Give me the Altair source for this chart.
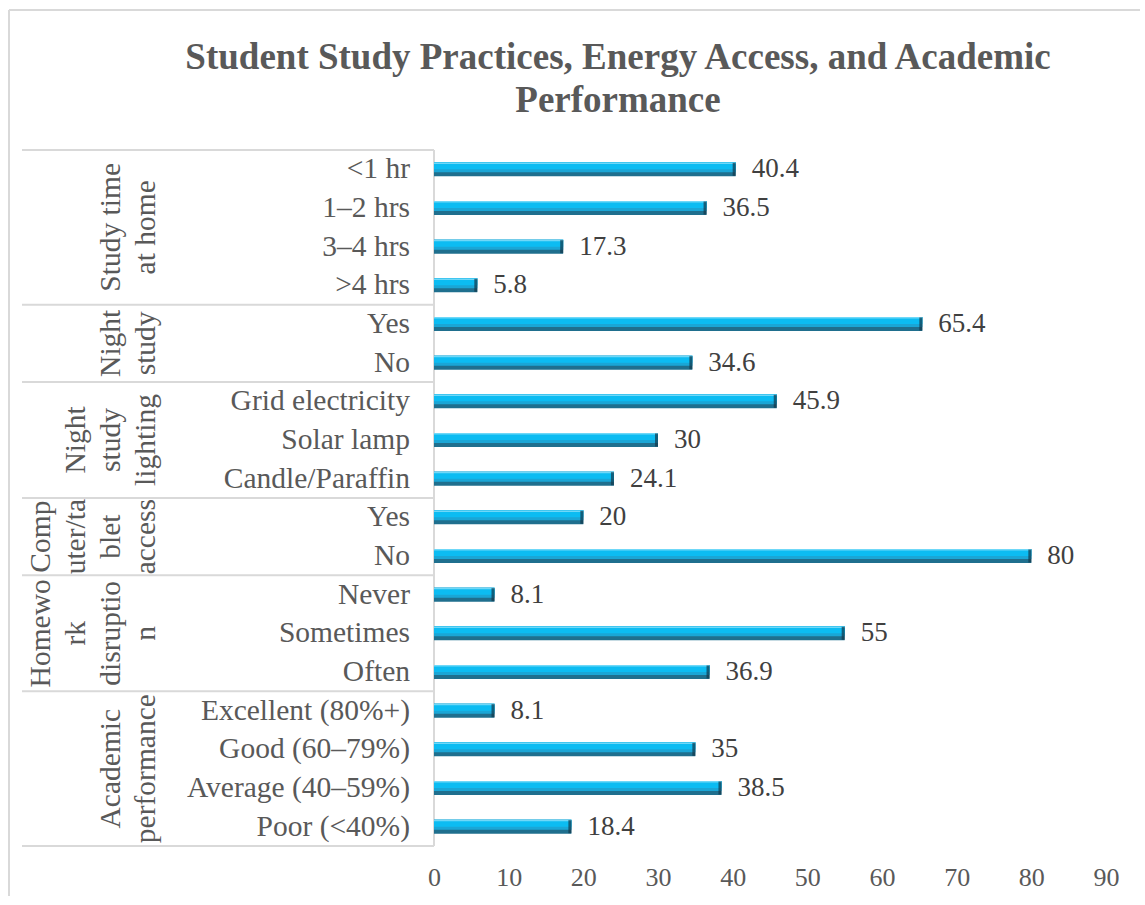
import altair as alt
import pandas as pd

title_lines = ["Student Study Practices, Energy Access, and Academic", "Performance"]

groups = [
    "Study time\nat home",
    "Night\nstudy",
    "Night\nstudy\nlighting",
    "Comp\nuter/ta\nblet\naccess",
    "Homewo\nrk\ndisruptio\nn",
    "Academic\nperformance",
]
group_sizes = [4, 2, 3, 2, 3, 4]

categories = [
    "<1 hr", "1–2 hrs", "3–4 hrs", ">4 hrs",
    "Yes", "No",
    "Grid electricity", "Solar lamp", "Candle/Paraffin",
    "Yes", "No",
    "Never", "Sometimes", "Often",
    "Excellent (80%+)", "Good (60–79%)", "Average (40–59%)", "Poor (<40%)",
]
values = [40.4, 36.5, 17.3, 5.8, 65.4, 34.6, 45.9, 30, 24.1, 20, 80, 8.1, 55, 36.9, 8.1, 35, 38.5, 18.4]
x_ticks = [0, 10, 20, 30, 40, 50, 60, 70, 80, 90]
x_max = 90

# ---- derived tables ----
n = len(categories)
df = pd.DataFrame({"row": list(range(n)), "category": categories, "value": values})
df["yc"] = df["row"] + 0.5
df["label"] = [("%g" % v) for v in values]

starts = []
s = 0
for g in group_sizes:
    starts.append(s)
    s += g

# one record per wrapped line of each group label; k = position counted from the last line
grows = []
for g, st, sz in zip(groups, starts, group_sizes):
    lines = g.split("\n")
    for i, ln in enumerate(lines):
        grows.append({"text": ln, "k": len(lines) - 1 - i, "center": st + sz / 2})
gdf = pd.DataFrame(grows)
max_lines = int(gdf["k"].max()) + 1
sep_df = pd.DataFrame({"pos": starts + [n]})

FONT = "Liberation Serif"
GRAY_TXT = "#595959"
LINE = "#d9d9d9"
LEFT_W = 412      # width of the category-label area
RIGHT_W = 672     # width of the bar area
W = LEFT_W + RIGHT_W
H = 696
LINE_H = 35
x_min = -x_max * LEFT_W / RIGHT_W

xs = alt.Scale(domain=[x_min, x_max], nice=False, zero=False, padding=0)
ys = alt.Scale(domain=[0, n], reverse=True, nice=False, zero=False, padding=0)

X = alt.X(
    "value:Q", scale=xs,
    axis=alt.Axis(
        values=x_ticks, title=None, grid=False, domain=False, ticks=False,
        labelFont=FONT, labelFontSize=26, labelColor=GRAY_TXT, labelPadding=18,
        labelFlush=False,
    ),
)
Y = alt.Y("yc:Q", scale=ys, axis=None)

base = alt.Chart(df)

# frame / separators
sep = alt.Chart(sep_df).mark_rule(color=LINE, strokeWidth=2).encode(
    y=alt.Y("pos:Q", scale=ys, axis=None),
    x=alt.datum(x_min), x2=alt.datum(0),
)
vline = alt.Chart(sep_df).mark_rule(color=LINE, strokeWidth=2).encode(
    x=alt.datum(0), y=alt.value(0), y2=alt.value(H),
)
border_top = alt.Chart(sep_df).mark_rule(color=LINE, strokeWidth=2).encode(
    x=alt.value(-13), x2=alt.value(1118), y=alt.value(-140),
)
border_left = alt.Chart(sep_df).mark_rule(color=LINE, strokeWidth=2).encode(
    x=alt.value(-13), y=alt.value(-140), y2=alt.value(746),
)

# left-hand texts
cat_text = base.mark_text(
    align="right", baseline="middle", font=FONT, fontSize=29.5, color=GRAY_TXT
).encode(y=Y, x=alt.value(LEFT_W - 24), text="category:N")

grp_layers = []
for k in range(max_lines):
    grp_layers.append(
        alt.Chart(gdf).transform_filter(alt.datum.k == k).mark_text(
            align="center", baseline="middle", angle=270, font=FONT, fontSize=29.5,
            color=GRAY_TXT,
        ).encode(
            y=alt.Y("center:Q", scale=ys, axis=None),
            x=alt.value(124 - k * LINE_H),
            text="text:N",
        )
    )

# bars (bevelled look)
bar_dark = base.mark_bar(orient="horizontal", size=14, color="#1f6f8e").encode(x=X, x2=alt.datum(0), y=Y)
bar_mid = base.mark_bar(orient="horizontal", size=10, yOffset=-2, color="#1aa6d6").encode(x=X, x2=alt.datum(0), y=Y)
bar_bright = base.mark_bar(orient="horizontal", size=7, yOffset=-3.5, color="#0cbcf2").encode(x=X, x2=alt.datum(0), y=Y)
bar_hi = base.mark_bar(orient="horizontal", size=1.5, yOffset=-6.2, color="#6fd8f8").encode(x=X, x2=alt.datum(0), y=Y)
cap = base.mark_tick(size=13, thickness=3, color="#12384a", xOffset=-1.5, orient="vertical").encode(x=X, y=Y)
val_text = base.mark_text(
    align="left", baseline="middle", dx=16, font=FONT, fontSize=27, color="#404040"
).encode(x=X, y=Y, text="label:N")

chart = alt.layer(
    border_top, border_left, sep, vline, *grp_layers, cat_text,
    bar_dark, bar_mid, bar_bright, bar_hi, cap, val_text,
).properties(
    width=W, height=H,
    title=alt.TitleParams(
        text=title_lines, font=FONT, fontSize=37, fontWeight="bold", color=GRAY_TXT,
        anchor="middle", frame="group", dx=54, offset=0, dy=111, lineHeight=43,
    ),
    padding={"left": 8, "top": 9, "right": 0, "bottom": 0},
    background="white",
).configure_view(strokeWidth=0, stroke="transparent")

chart.save("out.html", embed_options={"renderer": "svg", "actions": False})
